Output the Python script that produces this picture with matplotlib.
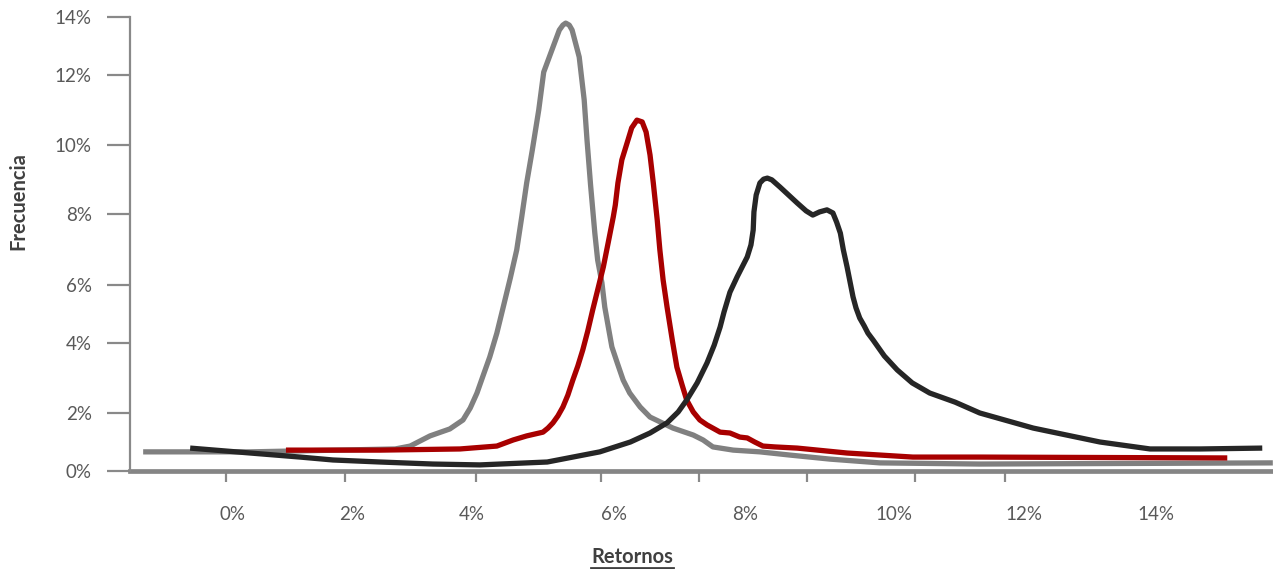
import numpy as np
import matplotlib
matplotlib.use("Agg")
import matplotlib.pyplot as plt
from matplotlib.lines import Line2D

plt.rcParams["font.family"] = ["Lato", "DejaVu Sans"]

# ---- data -------------------------------------------------------------
x_ticks = [0, 2, 4, 6, 8, 10, 12, 14]
x_tick_labels = ["0%", "2%", "4%", "6%", "8%", "10%", "12%", "14%"]
y_ticks = [0, 2, 4, 6, 8, 10, 12, 14]
y_tick_labels = ["0%", "2%", "4%", "6%", "8%", "10%", "12%", "14%"]

# return (%) vs. frequency (%) for three distributions
gray_x = [-1.51, 0.29, 2.72, 2.97, 3.30, 3.63, 3.85, 3.97, 4.07, 4.15, 4.25,
          4.35, 4.44, 4.54, 4.63, 4.70, 4.77, 4.85, 4.94, 5.01, 5.11, 5.23,
          5.28, 5.32, 5.37, 5.41, 5.51, 5.58, 5.62, 5.67, 5.73, 5.77, 5.83,
          5.87, 5.92, 5.97, 6.05, 6.14, 6.24, 6.40, 6.55, 6.90, 7.21, 7.36,
          7.51, 7.82, 8.20, 8.60, 9.14, 9.81, 11.32, 15.77]
gray_y = [0.66, 0.66, 0.76, 0.86, 1.21, 1.45, 1.76, 2.14, 2.57, 3.03, 3.60,
          4.34, 5.24, 6.20, 6.99, 7.91, 8.90, 9.86, 11.00, 12.10, 12.76, 13.55,
          13.72, 13.79, 13.72, 13.55, 12.62, 11.29, 10.14, 8.84, 7.46, 6.70,
          6.06, 5.24, 4.55, 3.89, 3.43, 2.94, 2.57, 2.17, 1.86, 1.48, 1.24,
          1.07, 0.83, 0.72, 0.66, 0.55, 0.41, 0.28, 0.24, 0.28]

red_x = [0.89, 2.47, 3.80, 4.35, 4.58, 4.77, 5.00, 5.07, 5.14, 5.21, 5.28,
         5.35, 5.42, 5.49, 5.56, 5.63, 5.70, 5.77, 5.85, 5.92, 5.99, 6.02,
         6.06, 6.12, 6.20, 6.27, 6.35, 6.43, 6.49, 6.55, 6.60, 6.66, 6.70,
         6.75, 6.81, 6.89, 6.96, 7.04, 7.11, 7.21, 7.31, 7.42, 7.62, 7.77,
         7.92, 8.03, 8.13, 8.24, 8.40, 8.70, 9.37, 10.29, 11.32, 15.08]
red_y = [0.72, 0.72, 0.76, 0.86, 1.07, 1.21, 1.34, 1.48, 1.66, 1.90, 2.17,
         2.51, 2.94, 3.34, 3.80, 4.41, 5.14, 5.83, 6.51, 7.21, 7.92, 8.26,
         8.90, 9.57, 10.06, 10.49, 10.71, 10.66, 10.37, 9.71, 8.90, 7.83,
         6.99, 6.14, 5.24, 4.10, 3.31, 2.80, 2.37, 2.03, 1.76, 1.59, 1.34,
         1.31, 1.17, 1.14, 1.00, 0.86, 0.83, 0.79, 0.62, 0.48, 0.48, 0.45]

black_x = [-0.72, 0.29, 1.13, 1.68, 2.47, 3.35, 4.11, 5.06, 5.80, 6.25, 6.55,
           6.81, 6.98, 7.11, 7.27, 7.42, 7.53, 7.62, 7.68, 7.77, 7.88, 8.03,
           8.08, 8.11, 8.12, 8.15, 8.20, 8.25, 8.30, 8.36, 8.47, 8.70, 8.82,
           8.91, 9.00, 9.10, 9.18, 9.23, 9.28, 9.32, 9.37, 9.45, 9.49, 9.54,
           9.60, 9.65, 9.72, 9.87, 10.05, 10.28, 10.55, 10.94, 11.32, 12.14,
           13.15, 13.91, 14.67, 15.61]
black_y = [0.79, 0.62, 0.48, 0.38, 0.31, 0.24, 0.21, 0.31, 0.66, 1.00, 1.31,
           1.66, 2.03, 2.37, 2.86, 3.43, 3.94, 4.55, 5.07, 5.75, 6.23, 6.79,
           7.13, 7.55, 8.06, 8.55, 8.90, 9.01, 9.04, 8.99, 8.78, 8.32, 8.09,
           7.97, 8.06, 8.12, 8.03, 7.77, 7.46, 6.99, 6.51, 5.59, 5.21, 4.86,
           4.59, 4.34, 4.10, 3.63, 3.23, 2.86, 2.57, 2.31, 2.00, 1.48, 1.00,
           0.76, 0.76, 0.79]

# ---- layout -----------------------------------------------------------
W, H, DPI = 1273, 569, 100
AX_LEFT, AX_RIGHT, AX_TOP, AX_BOTTOM = 130, 1273, 17, 471
# horizontal screen positions of the x labels and vertical positions of y ticks
X_ANCHOR_PX = [233, 352, 472, 614, 745, 894, 1024, 1156]
Y_ANCHOR_PX = [471, 413, 343, 285, 214, 145, 75, 17]
# small tick marks hanging below the x axis (in axis units)
X_MARKS = [-0.12, 1.88, 4.06, 5.82, 7.30, 8.83, 10.32, 11.71]

AXIS_GRAY = "#898989"
TEXT_GRAY = "#595959"
TITLE_GRAY = "#404040"


def piecewise(vals, pos):
    vals = np.asarray(vals, float)
    pos = np.asarray(pos, float)

    def build(a, b):
        def f(v):
            v = np.asarray(v, float)
            out = np.interp(v, a, b)
            lo_slope = (b[1] - b[0]) / (a[1] - a[0])
            hi_slope = (b[-1] - b[-2]) / (a[-1] - a[-2])
            out = np.where(v < a[0], b[0] + (v - a[0]) * lo_slope, out)
            out = np.where(v > a[-1], b[-1] + (v - a[-1]) * hi_slope, out)
            return out
        return f

    return build(vals, pos), build(pos, vals)


fig = plt.figure(figsize=(W / DPI, H / DPI), dpi=DPI)
ax = fig.add_axes([AX_LEFT / W, 1 - AX_BOTTOM / H,
                   (AX_RIGHT - AX_LEFT) / W, (AX_BOTTOM - AX_TOP) / H])

xf, xi = piecewise(x_ticks, X_ANCHOR_PX)
yf, yi = piecewise(y_ticks, [AX_BOTTOM - p for p in Y_ANCHOR_PX])
ax.set_xscale("function", functions=(xf, xi))
ax.set_yscale("function", functions=(yf, yi))

lw = 3.8
style = dict(lw=lw, solid_capstyle="butt", solid_joinstyle="round",
             clip_on=False)
ax.plot(gray_x, gray_y, color="#808080", zorder=3, **style)
ax.plot(red_x, red_y, color="#A80000", zorder=4, **style)
ax.plot(black_x, black_y, color="#262626", zorder=5, **style)

ax.set_xlim(xi(AX_LEFT), xi(AX_RIGHT))
ax.set_ylim(0, 14)

for s in ("top", "right"):
    ax.spines[s].set_visible(False)
ax.spines["left"].set_color(AXIS_GRAY)
ax.spines["left"].set_linewidth(1.6)
ax.spines["bottom"].set_color("#858585")
ax.spines["bottom"].set_linewidth(3.4)
ax.spines["bottom"].set_zorder(2)

ax.set_yticks(y_ticks)
ax.set_yticklabels(y_tick_labels)
ax.tick_params(axis="y", direction="out", length=16.5, width=1.6,
               color=AXIS_GRAY, labelcolor=TEXT_GRAY, labelsize=13.5, pad=11)

ax.set_xticks(x_ticks)
ax.set_xticklabels(x_tick_labels)
ax.set_xticks(X_MARKS, minor=True)
ax.tick_params(axis="x", which="major", length=0, labelcolor=TEXT_GRAY,
               labelsize=13.5, pad=25)
ax.tick_params(axis="x", which="minor", direction="out", length=8, width=1.6,
               color=AXIS_GRAY)

fig.text(18 / W, 1 - 201 / H, "Frecuencia", rotation=90, ha="center",
         va="center", fontsize=14.5, fontweight="bold", color=TITLE_GRAY)
xlab = fig.text(632 / W, 1 - 557 / H, "Retornos", ha="center", va="center",
                fontsize=14.5, fontweight="bold", color=TITLE_GRAY)

# underline the x-axis title
fig.canvas.draw()
bb = xlab.get_window_extent(renderer=fig.canvas.get_renderer())
uy = (bb.y0 - 1) / H
fig.add_artist(Line2D([bb.x0 / W, bb.x1 / W], [uy, uy],
                      transform=fig.transFigure, color=TITLE_GRAY, lw=2.0))

fig.savefig("out.png", dpi=DPI)
